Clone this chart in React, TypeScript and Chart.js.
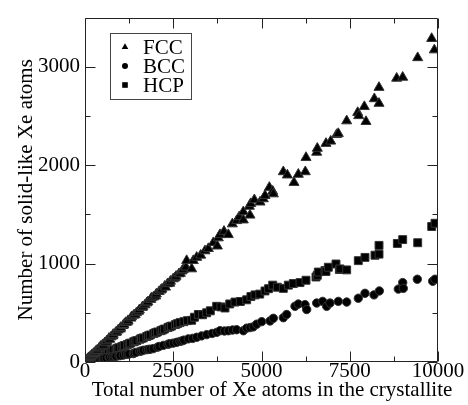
import React, { useEffect, useRef } from 'react';
import { Chart, registerables } from 'chart.js';

Chart.register(...registerables);

// ---- data ----
const seriesNames = ['FCC', 'BCC', 'HCP'];

const fccPoints: [number, number][] = [
  [30, 15], [60, 25], [90, 35], [100, 40], [120, 45], [150, 55], [180, 60], [190, 70], [230, 80], [260, 85],
  [270, 95], [310, 110], [340, 115], [350, 120], [400, 140], [430, 150], [450, 160], [500, 175], [520, 170],
  [560, 195], [610, 200], [620, 215], [680, 240], [700, 230], [740, 255], [790, 265], [800, 280], [870, 300],
  [900, 305], [940, 325], [1000, 335], [1010, 350], [1080, 370], [1100, 380], [1150, 400], [1200, 405],
  [1220, 420], [1300, 445], [1320, 460], [1380, 475], [1420, 480], [1460, 500], [1520, 515], [1540, 530],
  [1620, 555], [1640, 560], [1700, 580], [1750, 600], [1780, 610], [1860, 635], [1880, 650], [1940, 660],
  [2000, 670], [2020, 690], [2100, 715], [2150, 730], [2180, 740], [2260, 770], [2280, 760], [2340, 795],
  [2400, 800], [2420, 820], [2500, 845], [2550, 855], [2580, 870], [2660, 895], [2700, 900], [2750, 925],
  [2785, 940], [2861, 963], [3022, 946], [2880, 1030], [3068, 1030], [3164, 1063], [3277, 1085], [3399, 1129],
  [3494, 1152], [3635, 1212], [3749, 1178], [3777, 1261], [3824, 1294], [3938, 1327], [4060, 1294], [4174, 1403],
  [4297, 1436], [4371, 1476], [4485, 1443], [4485, 1526], [4674, 1492], [4655, 1582], [4694, 1609], [4797, 1648],
  [4958, 1625], [5052, 1658], [5099, 1691], [5222, 1774], [5317, 1735], [5336, 1708], [5618, 1933], [5732, 1900],
  [5921, 1824], [6043, 1907], [6241, 1933], [6261, 2078], [6563, 2131], [6581, 2171], [6827, 2221], [6960, 2244],
  [7130, 2311], [7176, 2321], [7413, 2450], [7725, 2535], [7753, 2503], [7960, 2443], [7913, 2595], [8196, 2675],
  [8329, 2628], [8329, 2790], [8829, 2883], [9000, 2893], [9424, 3092], [9820, 3287], [9896, 3171],
];

const bccPoints: [number, number][] = [
  [40, 4], [70, 6], [90, 8], [140, 12], [170, 14], [190, 16], [240, 20], [280, 22], [300, 24], [360, 28],
  [400, 30], [420, 32], [480, 36], [519, 37], [540, 40], [600, 42], [680, 47], [700, 48], [760, 52], [802, 53],
  [850, 56], [880, 58], [960, 64], [1000, 66], [1086, 70], [1150, 78], [1200, 80], [1250, 82], [1369, 86],
  [1400, 92], [1450, 98], [1550, 108], [1600, 112], [1652, 119], [1750, 125], [1800, 128], [1850, 130],
  [1935, 136], [2050, 150], [2100, 158], [2219, 169], [2350, 180], [2400, 186], [2502, 192], [2600, 200],
  [2691, 209], [2750, 215], [2800, 222], [2927, 235], [3050, 240], [3164, 251], [3300, 265], [3447, 278],
  [3600, 290], [3730, 301], [3824, 318], [3950, 315], [4060, 318], [4180, 325], [4296, 328], [4486, 318],
  [4580, 344], [4680, 350], [4768, 357], [4863, 384], [5005, 410], [5241, 417], [5335, 444], [5618, 450],
  [5713, 483], [5949, 566], [6043, 589], [6232, 583], [6280, 533], [6563, 599], [6733, 616], [6846, 566],
  [6941, 599], [7176, 616], [7413, 609], [7743, 648], [7932, 698], [8187, 682], [8338, 722], [8876, 741],
  [9000, 807], [9017, 748], [9414, 841], [9849, 821], [9915, 841],
];

const hcpPoints: [number, number][] = [
  [40, 8], [60, 12], [80, 15], [120, 22], [150, 25], [170, 30], [220, 38], [250, 40], [270, 45], [330, 55],
  [360, 58], [390, 62], [450, 72], [480, 76], [520, 82], [590, 92], [620, 96], [660, 102], [730, 112],
  [760, 118], [800, 122], [880, 132], [920, 140], [960, 145], [1040, 155], [1080, 160], [1120, 168],
  [1200, 178], [1250, 185], [1290, 192], [1380, 205], [1420, 212], [1470, 218], [1560, 232], [1600, 240],
  [1650, 245], [1750, 260], [1800, 268], [1850, 275], [1950, 290], [2000, 298], [2050, 305], [2150, 318],
  [2200, 326], [2250, 335], [2350, 350], [2400, 358], [2450, 365], [2560, 380], [2620, 390], [2691, 400],
  [2800, 410], [2900, 420], [3022, 424], [3100, 455], [3211, 483], [3330, 480], [3447, 500], [3550, 520],
  [3730, 566], [3850, 560], [3966, 549], [4100, 590], [4249, 609], [4400, 615], [4580, 632], [4700, 665],
  [4816, 682], [4950, 690], [5099, 722], [5200, 745], [5317, 781], [5450, 760], [5618, 748], [5760, 781],
  [5902, 797], [6091, 807], [6261, 831], [6544, 864], [6581, 881], [6610, 914], [6799, 930], [6827, 920],
  [6893, 963], [7110, 996], [7205, 940], [7224, 946], [7413, 936], [7742, 1030], [7932, 1063], [8215, 1085],
  [8329, 1096], [8329, 1185], [8848, 1205], [9000, 1244], [9425, 1212], [9822, 1377], [9915, 1410],
];

const xTickValues = [0, 2500, 5000, 7500, 10000];
const yTickValues = [0, 1000, 2000, 3000];
const xTitle = 'Total number of Xe atoms in the crystallite';
const yTitle = 'Number of solid-like Xe atoms';

const FONT = '"Liberation Serif", "Times New Roman", serif';

function toXY(arr: [number, number][]) {
  return arr.map(([x, y]) => ({ x, y }));
}

const framePlugin = {
  id: 'xmFrame',
  afterDraw(chart: any) {
    const { ctx, chartArea: a, scales } = chart;
    const xs = scales.x;
    const ys = scales.y;
    ctx.save();
    ctx.strokeStyle = '#222';
    ctx.lineWidth = 1;
    const L = Math.round(a.left) + 0.5;
    const R = Math.round(a.right) - 0.5;
    const T = Math.round(a.top) + 0.5;
    const B = Math.round(a.bottom) - 0.5;
    ctx.beginPath();
    ctx.rect(L, T, R - L, B - T);
    ctx.stroke();
    // ticks (inward, mirrored)
    ctx.beginPath();
    for (let v = 0; v <= 10000; v += 1250) {
      const px = Math.round(xs.getPixelForValue(v)) + 0.5;
      const len = v % 2500 === 0 ? 10 : 5;
      ctx.moveTo(px, B);
      ctx.lineTo(px, B - len);
      ctx.moveTo(px, T);
      ctx.lineTo(px, T + len);
    }
    for (let v = 0; v < 3500; v += 500) {
      const py = Math.round(ys.getPixelForValue(v)) + 0.5;
      const len = v % 1000 === 0 ? 10 : 5;
      ctx.moveTo(L, py);
      ctx.lineTo(L + len, py);
      ctx.moveTo(R, py);
      ctx.lineTo(R - len, py);
    }
    ctx.stroke();

    // axis titles
    ctx.fillStyle = '#000';
    ctx.font = '21px ' + FONT;
    ctx.textAlign = 'center';
    ctx.textBaseline = 'alphabetic';
    ctx.fillText(xTitle, 272, 396);
    ctx.save();
    ctx.translate(32, (a.top + a.bottom) / 2);
    ctx.rotate(-Math.PI / 2);
    ctx.fillText(yTitle, 0, 0);
    ctx.restore();

    // legend
    const bx = 110.5, by = 33.5, bw = 81, bh = 66;
    ctx.fillStyle = '#fff';
    ctx.fillRect(bx, by, bw, bh);
    ctx.strokeStyle = '#444';
    ctx.strokeRect(bx, by, bw, bh);
    const rows = [47, 66, 85];
    const mx = 125;
    ctx.fillStyle = '#000';
    ctx.beginPath();
    const r = 3.8;
    ctx.moveTo(mx, rows[0] - r);
    ctx.lineTo(mx + r * 0.866, rows[0] + r * 0.5);
    ctx.lineTo(mx - r * 0.866, rows[0] + r * 0.5);
    ctx.closePath();
    ctx.fill();
    ctx.beginPath();
    ctx.arc(mx, rows[1], 3, 0, Math.PI * 2);
    ctx.fill();
    ctx.fillRect(mx - 2.8, rows[2] - 2.8, 5.6, 5.6);
    ctx.font = '21px ' + FONT;
    ctx.textAlign = 'left';
    ctx.textBaseline = 'middle';
    seriesNames.forEach((n, i) => ctx.fillText(n, 143, rows[i] + 1));
    ctx.restore();
  },
};

export default function App() {
  const ref = useRef<HTMLCanvasElement | null>(null);
  useEffect(() => {
    document.body.style.margin = '0';
    const canvas = ref.current;
    if (!canvas) return;
    const common = {
      showLine: false,
      backgroundColor: '#000',
      borderColor: '#333',
      borderWidth: 1,
    };
    const chart = new Chart(canvas, {
      type: 'scatter',
      data: {
        datasets: [
          { ...common, label: seriesNames[0], data: toXY(fccPoints), pointStyle: 'triangle', pointRadius: 5.8 },
          { ...common, label: seriesNames[1], data: toXY(bccPoints), pointStyle: 'circle', pointRadius: 4.2 },
          { ...common, label: seriesNames[2], data: toXY(hcpPoints), pointStyle: 'rect', pointRadius: 5.6 },
        ],
      },
      options: {
        responsive: false,
        animation: false,
        layout: { padding: { left: 0, right: 30, top: 9, bottom: 0 } },
        plugins: { legend: { display: false }, tooltip: { enabled: false } },
        scales: {
          x: {
            type: 'linear',
            min: 0,
            max: 10000,
            grid: { display: false, drawTicks: false },
            border: { display: false },
            afterBuildTicks: (s: any) => { s.ticks = xTickValues.map((v) => ({ value: v })); },
            afterFit: (s: any) => { s.height = 43; },
            ticks: {
              autoSkip: false,
              maxRotation: 0,
              padding: -3,
              color: '#000',
              font: { family: FONT, size: 21 },
              callback: (v: any) => String(v),
            },
          },
          y: {
            type: 'linear',
            min: 0,
            max: 3500,
            grid: { display: false, drawTicks: false },
            border: { display: false },
            afterBuildTicks: (s: any) => { s.ticks = yTickValues.map((v) => ({ value: v })); },
            afterFit: (s: any) => { s.width = 85; },
            ticks: {
              autoSkip: false,
              padding: 5,
              color: '#000',
              font: { family: FONT, size: 21 },
              callback: (v: any) => String(v),
            },
          },
        },
      },
      plugins: [framePlugin],
    });
    return () => chart.destroy();
  }, []);
  return (
    <div style={{ width: 468, height: 405 }}>
      <canvas ref={ref} width={468} height={405} />
    </div>
  );
}
